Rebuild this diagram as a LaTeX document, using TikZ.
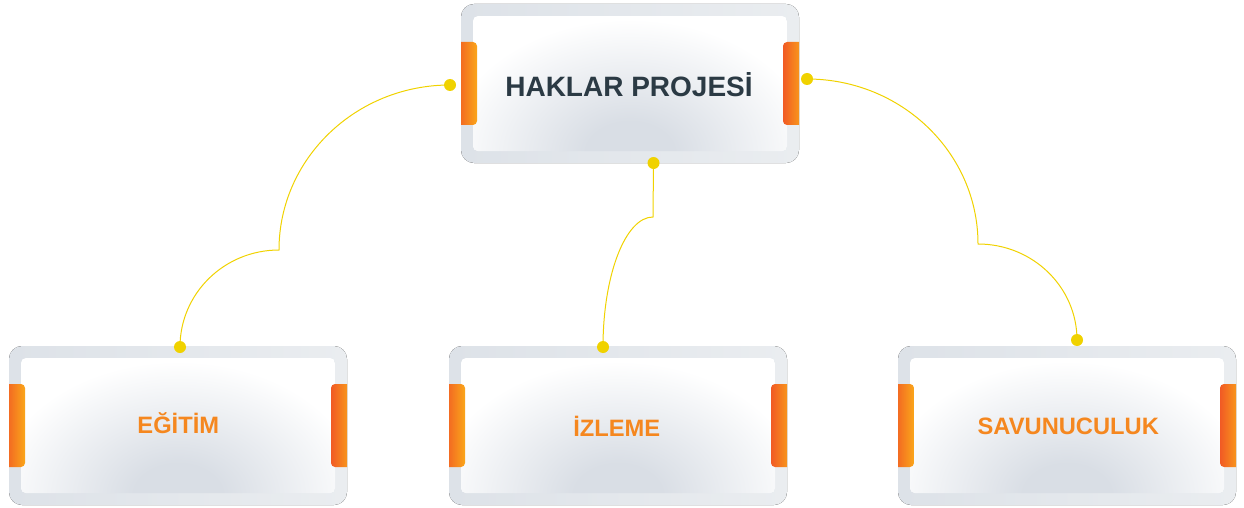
\documentclass[tikz,border=0pt]{standalone}
\usepackage{fontspec}
\setmainfont{Liberation Sans}
\definecolor{frameL}{HTML}{EAEDF0}
\definecolor{frameR}{HTML}{DDE2E8}
\definecolor{innerG}{HTML}{D9DEE5}
\definecolor{tabL}{HTML}{FAA61A}
\definecolor{tabR}{HTML}{F15A24}
\definecolor{lineY}{HTML}{F0D200}
\definecolor{titleC}{HTML}{2B3A44}
\definecolor{labelC}{HTML}{F5871F}
\pgfdeclareradialshading{panelglow}{\pgfpoint{0bp}{0bp}}{color(0bp)=(innerG); color(6bp)=(innerG); color(25bp)=(white); color(50bp)=(white)}
\tikzset{
  panelnode/.style={minimum width=338pt, minimum height=159pt, inner sep=0pt, outer sep=0pt},
  panel/.pic={
    \fill[rounded corners=13pt, left color=frameR, right color=frameL] (0,0) rectangle (338,159);
    \begin{scope}
      \clip[rounded corners=5pt] (12,12) rectangle (326,147);
      \fill[white] (12,12) rectangle (326,147);
      \shade[shading=panelglow] (169,150) ellipse (185 and 135);
    \end{scope}
    \begin{scope}
      \clip (0,38) rectangle (16,121);
      \shade[left color=tabR, right color=tabL, rounded corners=4pt] (-5,38) rectangle (16,121);
    \end{scope}
    \begin{scope}
      \clip (322,38) rectangle (338,121);
      \shade[left color=tabR, right color=tabL, rounded corners=4pt] (322,38) rectangle (343,121);
    \end{scope}
  },
  titletext/.style={text=titleC, font=\fontsize{28}{30}\selectfont\bfseries, inner sep=0pt, anchor=base},
  labeltext/.style={text=labelC, font=\fontsize{23.7}{25}\selectfont\bfseries, inner sep=0pt, anchor=base},
  conn/.style={draw=lineY, line width=1pt},
  dot/.style={circle, fill=lineY, inner sep=0pt, minimum size=12pt}
}
\begin{document}
\begin{tikzpicture}[x=1pt,y=-1pt]
\useasboundingbox (0,0) rectangle (1244,508);
% panels
\node[panelnode] (top) at (630,83.5) {};
\node[panelnode] (bl) at (178,425.5) {};
\node[panelnode] (bm) at (618,425.5) {};
\node[panelnode] (br) at (1067,425.5) {};
\pic at (top.north west) {panel};
\pic at (bl.north west) {panel};
\pic at (bm.north west) {panel};
\pic at (br.north west) {panel};
% texts
\node[titletext] (topT) at (629,96.5) {HAKLAR PROJESİ};
\node[labeltext] (blT) at (178.3,433) {EĞİTİM};
\node[labeltext] (bmT) at (616.7,436.5) {İZLEME};
\node[labeltext] (brT) at (1068.3,434) {SAVUNUCULUK};
% junctions
\coordinate (j1) at (279,250);
\coordinate (j2) at (653,217);
\coordinate (j3) at (978,244);
% dots
\node[dot] (tl) at (450,85) {};
\node[dot] (tb) at (653.5,163) {};
\node[dot] (tr) at (807,79) {};
\node[dot] (b1) at (180,347) {};
\node[dot] (b2) at (603,347) {};
\node[dot] (b3) at (1077,340) {};
% connectors
\draw[conn] (tl.center) .. controls (355.6,85) and (279,158.9) .. (j1)
  .. controls (224.3,250) and (180,293.4) .. (b1.center);
\draw[conn] (tb.center) -- (j2)
  .. controls (625.4,217) and (603,275.2) .. (b2.center);
\draw[conn] (tr.center) .. controls (901.4,79) and (978,152.9) .. (j3)
  .. controls (1032.7,244) and (1077,287) .. (b3.center);
\end{tikzpicture}
\end{document}
